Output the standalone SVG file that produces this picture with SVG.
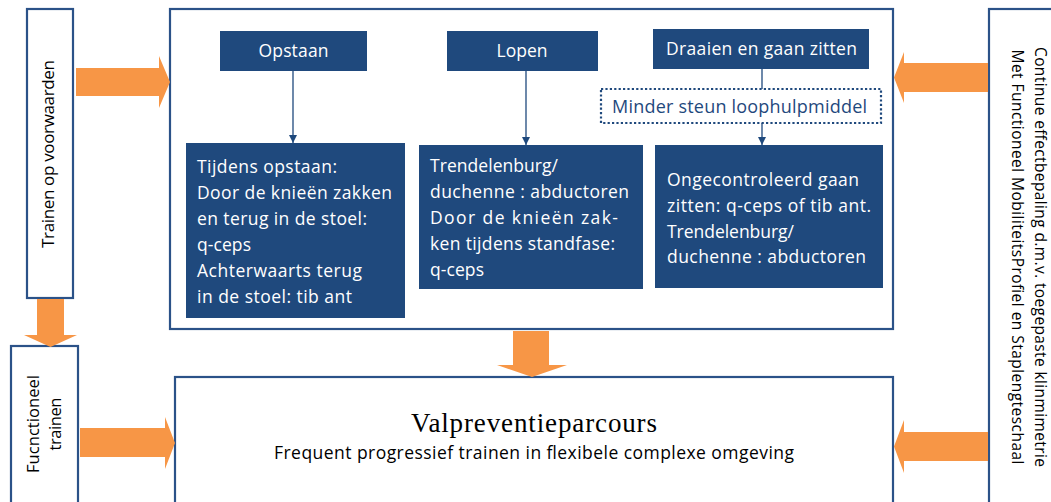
<svg xmlns="http://www.w3.org/2000/svg" width="1051" height="502" viewBox="0 0 1051 502">
<defs>
<style>
.frame{fill:#fff;stroke:#2B5288;stroke-width:2.2}
.blk{fill:#1F497D}
.arr{fill:#F79646}
.t{font-family:"Open Sans","Liberation Sans",sans-serif;font-size:17.5px;fill:#fff}
.th{font-family:"Open Sans","Liberation Sans",sans-serif;font-size:17.5px;fill:#fff;text-anchor:middle}
.tk{font-family:"Open Sans","Liberation Sans",sans-serif;fill:#000;text-anchor:middle}
.con{stroke:#1F497D;stroke-width:1.3;fill:none}
</style>
<marker id="ah" viewBox="0 0 8 8" refX="8" refY="4" markerWidth="8" markerHeight="8" markerUnits="userSpaceOnUse" orient="auto">
<path d="M0,0 L8,4 L0,8 z" fill="#1F497D"/>
</marker>
</defs>
<rect width="1051" height="502" fill="#fff"/>

<g id="main-box">
<rect class="frame" x="170" y="9" width="723" height="320"/>
</g>

<g id="node-trainen">
<rect class="frame" x="27" y="9" width="46" height="289"/>
<text class="tk" font-size="17" textLength="188" transform="translate(54,154) rotate(-90)">Trainen op voorwaarden</text>
</g>

<g id="node-functioneel">
<rect class="frame" x="11" y="346" width="67" height="170"/>
<text class="tk" font-size="16.5" textLength="98" transform="translate(39,424) rotate(-90)">Fucnctioneel</text>
<text class="tk" font-size="16.5" textLength="53" transform="translate(61,424) rotate(-90)">trainen</text>
</g>

<g id="node-effect">
<rect class="frame" x="989" y="9" width="80" height="510"/>
<text class="tk" font-size="15.5" textLength="420" transform="translate(1035,257) rotate(90)">Continue effectbepaling d.m.v. toegepaste klinmimetrie</text>
<text class="tk" font-size="15.5" textLength="415" transform="translate(1012,257) rotate(90)">Met Functioneel MobiliteitsProfiel en Staplengteschaal</text>
</g>

<g id="node-valpreventie">
<rect class="frame" x="175" y="377" width="718" height="140"/>
<text x="534" y="432" text-anchor="middle" font-family="Liberation Serif,serif" font-size="27" textLength="246" fill="#000">Valpreventieparcours</text>
<text class="tk" x="534" y="459" font-size="17.5" textLength="520">Frequent progressief trainen in flexibele complexe omgeving</text>
</g>

<g id="node-opstaan">
<rect class="blk" x="220" y="31" width="147" height="40"/>
<text class="th" x="293.5" y="57" textLength="70">Opstaan</text>
</g>

<g id="node-lopen">
<rect class="blk" x="447" y="31" width="151" height="40"/>
<text class="th" x="522" y="57" textLength="51">Lopen</text>
</g>

<g id="node-draaien">
<rect class="blk" x="653" y="29" width="216" height="40"/>
<text class="th" x="761.5" y="55" textLength="191">Draaien en gaan zitten</text>
</g>

<g id="node-minder">
<rect x="601" y="89" width="280" height="34" fill="#fff" stroke="#1F497D" stroke-width="2.2" stroke-dasharray="2.2,2.2"/>
<text x="739.5" y="113" text-anchor="middle" font-family="Open Sans,Liberation Sans,sans-serif" font-size="18" textLength="255" fill="#1F497D">Minder steun loophulpmiddel</text>
</g>

<g id="node-box1">
<rect class="blk" x="186" y="143" width="219" height="175"/>
<text class="t" x="197" y="173" textLength="140">Tijdens opstaan:</text>
<text class="t" x="197" y="199" textLength="195">Door de knieën zakken</text>
<text class="t" x="197" y="225" textLength="170">en terug in de stoel:</text>
<text class="t" x="197" y="251" textLength="54">q-ceps</text>
<text class="t" x="197" y="277" textLength="165">Achterwaarts terug</text>
<text class="t" x="197" y="303" textLength="155">in de stoel: tib ant</text>
</g>

<g id="node-box2">
<rect class="blk" x="419" y="145" width="224" height="144"/>
<text class="t" x="430" y="172" textLength="128">Trendelenburg/</text>
<text class="t" x="430" y="198" textLength="199">duchenne : abductoren</text>
<text class="t" x="430" y="224" textLength="188">Door de knieën zak-</text>
<text class="t" x="430" y="250" textLength="185">ken tijdens standfase:</text>
<text class="t" x="430" y="276" textLength="54">q-ceps</text>
</g>

<g id="node-box3">
<rect class="blk" x="655" y="145" width="228" height="143"/>
<text class="t" x="667" y="186" textLength="192">Ongecontroleerd gaan</text>
<text class="t" x="667" y="212" textLength="204">zitten: q-ceps of tib ant.</text>
<text class="t" x="667" y="238" textLength="127">Trendelenburg/</text>
<text class="t" x="667" y="263" textLength="199">duchenne : abductoren</text>
</g>

<g id="connectors">
<line class="con" x1="293" y1="71" x2="293" y2="143" marker-end="url(#ah)"/>
<line class="con" x1="526" y1="71" x2="526" y2="145" marker-end="url(#ah)"/>
<line class="con" x1="762" y1="69" x2="762" y2="89"/>
<line class="con" x1="762" y1="123" x2="762" y2="145" marker-end="url(#ah)"/>
<polygon class="arr" points="76,68 159,68 159,56 170,82 159,108 159,96 76,96"/>
<polygon class="arr" points="37,299 64,299 64,335 77,335 50.5,347 24,335 37,335"/>
<polygon class="arr" points="80,428 165,428 165,417 175,443 165,469 165,457 80,457"/>
<polygon class="arr" points="513,331 549,331 549,365 567,365 532,377 497,365 513,365"/>
<polygon class="arr" points="988,63 904,63 904,52 894,77.5 904,103 904,92 988,92"/>
<polygon class="arr" points="988,432 904,432 904,420 894,446.5 904,473 904,461 988,461"/>
</g>
</svg>
